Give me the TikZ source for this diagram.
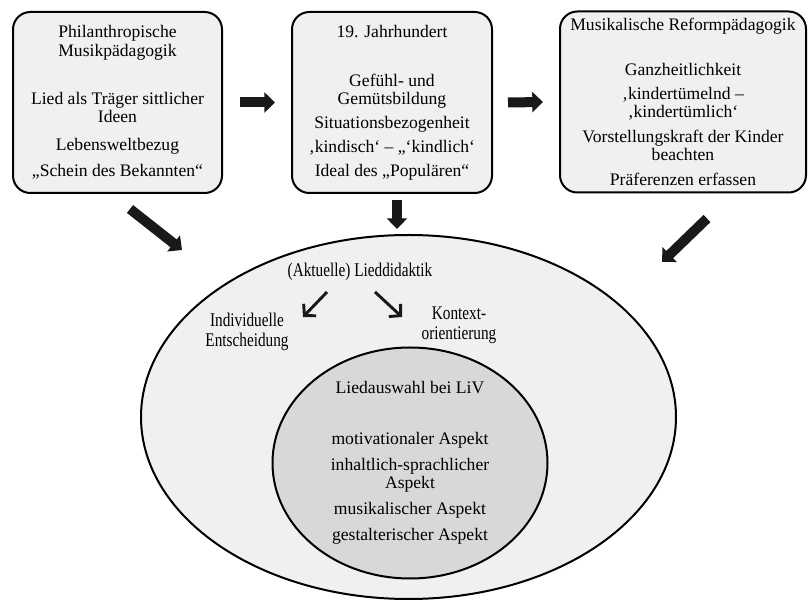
\documentclass[tikz,border=0pt]{standalone}
\usepackage{fontspec}
\setmainfont{Liberation Serif}
\newfontfamily\condfont[FakeStretch=0.79]{Liberation Serif}
\usetikzlibrary{arrows.meta,shapes.geometric}

\definecolor{boxfill}{RGB}{240,240,240}
\definecolor{innerfill}{RGB}{216,216,216}

\tikzset{
  epoch/.style={draw=black, line width=1.5pt, fill=boxfill, rounded corners=13pt,
                minimum width=#1, minimum height=135.75pt, inner sep=0pt, align=center,
                font=\fontsize{13.2pt}{13.8pt}\selectfont},
  bigarrow/.style={line width=7.5pt, black!90, -{Triangle[length=8pt,width=15pt]}},
  smallarrow/.style={line width=2.2pt, black!90, -{Straight Barb[length=6pt,width=13pt]}},
  condtext/.style={align=center, inner sep=0pt, font=\condfont\fontsize{14.5pt}{15pt}\selectfont}
}

\begin{document}
\begin{tikzpicture}[x=0.75pt, y=-0.75pt]
    \useasboundingbox (0,0) rectangle (808,602);
    % three historical positions on top
    \node[epoch=156.75pt] (phil) at (117.5,102.5) {%
      Philanthropische\\Musikpädagogik\\[22pt]
      Lied als Träger sittlicher\\Ideen\\[7pt]
      Lebensweltbezug\\[6pt]
      „Schein des Bekannten“};
    \node[epoch=150pt] (jh) at (392,102.5) {%
      19. Jahrhundert\\[23pt]
      Gefühl- und\\Gemütsbildung\\[4pt]
      Situationsbezogenheit\\[4pt]
      ‚kindisch‘ – „‘kindlich‘\\[4pt]
      Ideal des „Populären“};
    \node[epoch=184.5pt] (reform) at (683,102) {%
      Musikalische Reformpädagogik\\[20pt]
      Ganzheitlichkeit\\[4pt]
      ‚kindertümelnd –\\‚kindertümlich‘\\[5pt]
      Vorstellungskraft der Kinder\\beachten\\[5pt]
      Präferenzen erfassen};
    % nested ellipses
    \node[ellipse, draw=black, line width=1.5pt, fill=boxfill, minimum width=401.25pt,
          minimum height=273pt, inner sep=0pt] (outer) at (408.5,417) {};
    \node[condtext] (lied) at (360,272) {(Aktuelle) Lieddidaktik};
    \node[condtext] (indiv) at (247,332) {Individuelle\\Entscheidung};
    \node[condtext] (kontext) at (459,325) {Kontext-\\orientierung};
    \node[ellipse, draw=black, line width=1.5pt, fill=innerfill, minimum width=206.25pt,
          minimum height=165pt, inner sep=0pt, align=center,
          font=\fontsize{13.2pt}{13.5pt}\selectfont] (inner) at (410,463) {%
      Liedauswahl bei LiV\\[25pt]
      motivationaler Aspekt\\[6pt]
      inhaltlich-sprachlicher\\Aspekt\\[6pt]
      musikalischer Aspekt\\[6pt]
      gestalterischer Aspekt};
    % arrows
    \draw[bigarrow] ([shift={(17,0)}]phil.east) -- ([shift={(-16,0)}]jh.west);
    \draw[bigarrow] ([shift={(15,0)}]jh.east) -- ([shift={(-16,0)}]reform.west);
    \draw[bigarrow] ([shift={(12.5,15)}]phil.south) -- ([shift={(-226.5,-167)}]outer.center);
    \draw[bigarrow] ([shift={(5,6)}]jh.south) -- ([shift={(-11.5,-5)}]outer.north);
    \draw[bigarrow] ([shift={(24,25)}]reform.south) -- ([shift={(253.5,-155)}]outer.center);
    \draw[smallarrow] ([shift={(-33,20)}]lied.center) -- ([shift={(56,-15)}]indiv.center);
    \draw[smallarrow] ([shift={(15,20)}]lied.center) -- ([shift={(-57,-8)}]kontext.center);
\end{tikzpicture}
\end{document}
